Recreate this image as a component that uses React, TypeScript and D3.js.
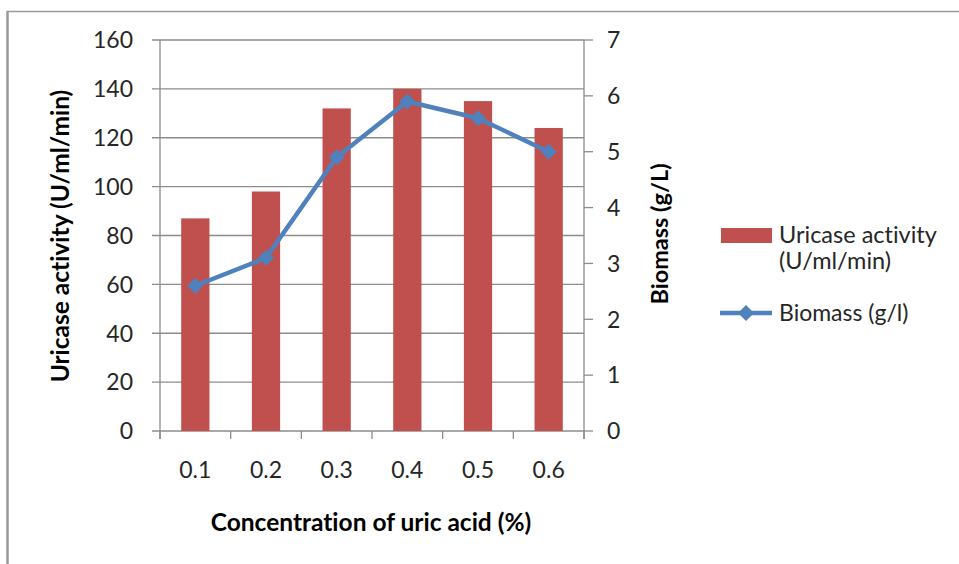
import React from "react";
import * as d3 from "d3";

const categories = ["0.1", "0.2", "0.3", "0.4", "0.5", "0.6"];
const uricaseActivity = [87, 98, 132, 140, 135, 124];
const biomass = [2.6, 3.1, 4.9, 5.9, 5.6, 5.0];
const leftTicks = [0, 20, 40, 60, 80, 100, 120, 140, 160];
const rightTicks = [0, 1, 2, 3, 4, 5, 6, 7];

const W = 959;
const H = 564;
const plot = { left: 160, right: 584, top: 40, bottom: 431 };
const FONT = "Lato, 'Open Sans', sans-serif";
const BAR = "#C0504D";
const LINE = "#4F81BD";
const GRID = "#8c8c8c";
const TEXT = "#262626";

function diamond(cx: number, cy: number, r: number) {
  return `M${cx},${cy - r}L${cx + r},${cy}L${cx},${cy + r}L${cx - r},${cy}Z`;
}

export default function App() {
  const x = d3
    .scaleBand<string>()
    .domain(categories)
    .range([plot.left, plot.right])
    .paddingInner(0.6)
    .paddingOuter(0.3);
  const band = d3.scaleBand<string>().domain(categories).range([plot.left, plot.right]);
  const yL = d3.scaleLinear().domain([0, 160]).range([plot.bottom, plot.top]);
  const yR = d3.scaleLinear().domain([0, 7]).range([plot.bottom, plot.top]);

  const line = d3
    .line<number>()
    .x((_, i) => (band(categories[i]) as number) + band.bandwidth() / 2)
    .y((d) => yR(d));

  const boundaries = d3.range(categories.length + 1).map((i) => plot.left + i * band.step());

  return (
    <svg
      width={W}
      height={H}
      style={{
        position: "absolute",
        left: 0,
        top: 0,
        background: "#fff",
        fontVariantLigatures: "none",
        fontFeatureSettings: "'liga' 0, 'clig' 0",
      }}
      fontFamily={FONT}
    >
      {/* chart frame */}
      <line x1={7} y1={11.5} x2={W} y2={11.5} stroke="#9a9a9a" strokeWidth={1.5} />
      <line x1={7.5} y1={11} x2={7.5} y2={H} stroke="#9a9a9a" strokeWidth={2.5} />

      {/* gridlines and left axis */}
      {leftTicks.map((t) => (
        <g key={t}>
          <line
            x1={plot.left - 8}
            x2={plot.right}
            y1={yL(t)}
            y2={yL(t)}
            stroke={GRID}
            strokeWidth={1.3}
          />
          <text
            x={133}
            y={yL(t)}
            dy="0.36em"
            textAnchor="end"
            fontSize={23}
            fill={TEXT}
          >
            {t}
          </text>
        </g>
      ))}
      <line x1={plot.left} x2={plot.left} y1={plot.top} y2={plot.bottom + 8} stroke={GRID} strokeWidth={1.3} />

      {/* right axis */}
      <line x1={plot.right} x2={plot.right} y1={plot.top} y2={plot.bottom + 8} stroke={GRID} strokeWidth={1.3} />
      {rightTicks.map((t) => (
        <g key={t}>
          <line x1={plot.right} x2={plot.right + 9} y1={yR(t)} y2={yR(t)} stroke={GRID} strokeWidth={1.3} />
          <text x={607} y={yR(t)} dy="0.36em" fontSize={23} fill={TEXT}>
            {t}
          </text>
        </g>
      ))}

      {/* category ticks */}
      {boundaries.map((bx, i) => (
        <line key={i} x1={bx} x2={bx} y1={plot.bottom} y2={plot.bottom + 8} stroke={GRID} strokeWidth={1.3} />
      ))}

      {/* bars */}
      {categories.map((c, i) => (
        <rect
          key={c}
          x={x(c)}
          y={yL(uricaseActivity[i])}
          width={x.bandwidth()}
          height={plot.bottom - yL(uricaseActivity[i])}
          fill={BAR}
        />
      ))}

      {/* biomass line */}
      <path d={line(biomass) ?? ""} fill="none" stroke={LINE} strokeWidth={4.5} strokeLinejoin="round" />
      {biomass.map((v, i) => (
        <path
          key={i}
          d={diamond((band(categories[i]) as number) + band.bandwidth() / 2, yR(v), 8)}
          fill={LINE}
        />
      ))}

      {/* category labels */}
      {categories.map((c) => (
        <text
          key={c}
          x={(band(c) as number) + band.bandwidth() / 2}
          y={470}
          dy="0.36em"
          textAnchor="middle"
          fontSize={23}
          fill={TEXT}
        >
          {c}
        </text>
      ))}

      {/* axis titles */}
      <text
        x={371}
        y={522}
        dy="0.36em"
        textAnchor="middle"
        fontSize={24.5}
        fontWeight="bold"
        fill="#000"
      >
        Concentration of uric acid (%)
      </text>
      <text
        transform="translate(60,236) rotate(-90)"
        dy="0.36em"
        textAnchor="middle"
        fontSize={24.5}
        fontWeight="bold"
        fill="#000"
      >
        Uricase activity (U/ml/min)
      </text>
      <text
        transform="translate(660,234) rotate(-90)"
        dy="0.36em"
        textAnchor="middle"
        fontSize={23.5}
        fontWeight="bold"
        fill="#000"
      >
        Biomass (g/L)
      </text>

      {/* legend */}
      <rect x={721} y={228} width={51} height={15} fill={BAR} />
      <text x={779} y={235} dy="0.36em" fontSize={23.5} fill={TEXT}>
        Uricase activity
      </text>
      <text x={779} y={261} dy="0.36em" fontSize={23.5} fill={TEXT}>
        (U/ml/min)
      </text>
      <line x1={720} x2={772} y1={313} y2={313} stroke={LINE} strokeWidth={4.5} />
      <path d={diamond(746, 313, 8)} fill={LINE} />
      <text x={779} y={313} dy="0.36em" fontSize={23} fill={TEXT}>
        Biomass (g/l)
      </text>
    </svg>
  );
}
